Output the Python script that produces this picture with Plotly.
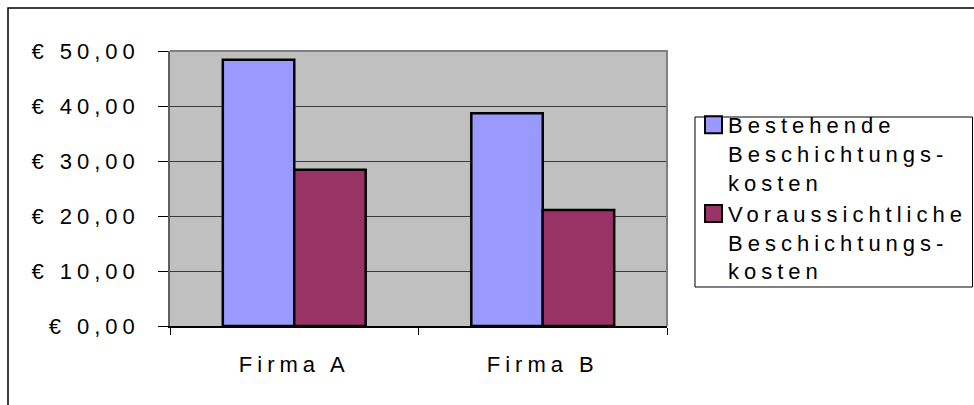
import plotly.graph_objects as go

# Kosten je Firma (Euro)
firms = ["Firma A", "Firma B"]
bestehende_kosten = [48.4, 38.7]
voraussichtliche_kosten = [28.4, 21.1]
series_names = [
    "Bestehende<br>Beschichtungs-<br>kosten",
    "Voraussichtliche<br>Beschichtungs-<br>kosten",
]
y_tick_values = [0, 10, 20, 30, 40, 50]
y_tick_labels = ["€ 0,00", "€ 10,00", "€ 20,00", "€ 30,00", "€ 40,00", "€ 50,00"]

FONT = "Liberation Sans, Arial, sans-serif"
FS = 22

fig = go.Figure()
fig.add_trace(go.Bar(
    x=firms, y=bestehende_kosten, name=series_names[0],
    marker=dict(color="#9999FF", line=dict(color="black", width=2.5)),
))
fig.add_trace(go.Bar(
    x=firms, y=voraussichtliche_kosten, name=series_names[1],
    marker=dict(color="#993366", line=dict(color="black", width=2.5)),
))

# plot area: 170..667 px horizontally, 51..326 px vertically
L, R, T, B = 170, 307, 51, 79
W, H = 974 - L - R, 405 - T - B


def px(xp):
    return (xp - L) / W


def py(yp):
    return (405 - B - yp) / H


shapes = [
    # outer chart frame (left and top edges visible)
    dict(type="path", xref="paper", yref="paper",
         path=f"M {px(8)},{py(480)} L {px(8)},{py(8)} L {px(1100)},{py(8)}",
         line=dict(color="black", width=1.5)),
    # plot area frame (top and right)
    dict(type="path", xref="paper", yref="paper",
         path="M 0,1 L 1,1 L 1,0",
         line=dict(color="#808080", width=2)),
    # legend frame
    dict(type="rect", xref="paper", yref="paper",
         x0=px(695), x1=px(972.5), y0=py(287), y1=py(117),
         line=dict(color="black", width=1), fillcolor="white", layer="below"),
]

fig.update_layout(
    width=974, height=405,
    margin=dict(l=L, r=R, t=T, b=B, pad=0),
    paper_bgcolor="white",
    plot_bgcolor="#C0C0C0",
    font=dict(family=FONT, size=FS, color="black"),
    barmode="group",
    bargap=0.425,
    bargroupgap=0,
    showlegend=True,
    legend=dict(
        x=px(688), xanchor="left",
        y=py(104), yanchor="top",
        valign="top",
        bgcolor="rgba(0,0,0,0)",
        borderwidth=0,
        font=dict(family=FONT, size=FS, color="black"),
        tracegroupgap=0,
    ),
    shapes=shapes,
    xaxis=dict(
        type="category",
        showgrid=False,
        showline=True, linecolor="black", linewidth=2,
        ticks="outside", tickson="boundaries", ticklen=7,
        tickcolor="black", tickwidth=1,
        ticklabelstandoff=18,
        tickfont=dict(family=FONT, size=FS, color="black"),
    ),
    yaxis=dict(
        range=[0, 50],
        tickvals=y_tick_values,
        ticktext=y_tick_labels,
        showgrid=True, gridcolor="#3a3a3a", gridwidth=1,
        zeroline=False,
        showline=True, linecolor="#606060", linewidth=1.5,
        ticks="outside", ticklen=10, tickcolor="black", tickwidth=1,
        ticklabelstandoff=14,
        tickfont=dict(family=FONT, size=FS, color="black"),
    ),
)

# widen the character spacing of all chart texts, let the legend texts
# run past the legend's own clipping box and use larger legend swatches
spacing_js = """
var gd = document.getElementById('{plot_id}');
gd.querySelectorAll('text').forEach(function (t) { t.style.letterSpacing = '5px'; });
gd.querySelectorAll('.legend [clip-path]').forEach(function (e) { e.removeAttribute('clip-path'); });
gd.querySelectorAll('.legend .legendpoints path').forEach(function (p) {
    p.setAttribute('d', 'M14,8.5H-3V-8.5H14Z');
    p.style.strokeWidth = '2px';
});
"""

fig.write_html("out.html", post_script=spacing_js)
